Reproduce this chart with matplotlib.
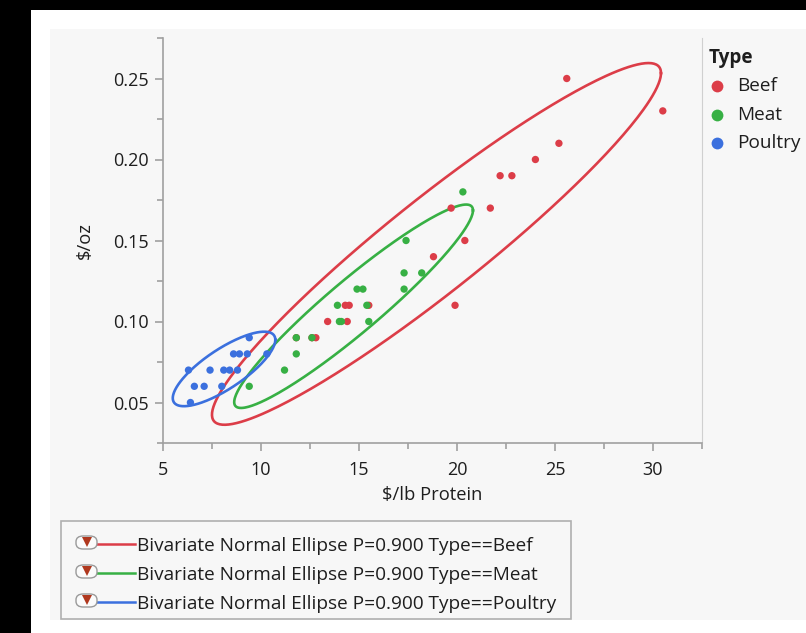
import numpy as np
import matplotlib.pyplot as plt
from matplotlib.patches import Rectangle, FancyBboxPatch
from matplotlib.lines import Line2D
from matplotlib.ticker import MultipleLocator

plt.rcParams['font.family'] = ['Open Sans', 'DejaVu Sans']

types = ['Beef', 'Meat', 'Poultry']
colors = ['#dc3d48', '#37b044', '#3b70de']

# $/lb Protein, $/oz
# (the last two beef rows sit under green points and are hidden)
beef_x = [25.6, 30.5, 25.2, 24.0, 22.2, 22.8, 19.7, 21.7, 20.4, 18.8, 19.9,
          13.4, 14.4, 14.3, 14.5, 15.5, 12.8, 11.8, 12.6]
beef_y = [0.25, 0.23, 0.21, 0.20, 0.19, 0.19, 0.17, 0.17, 0.15, 0.14, 0.11,
          0.10, 0.10, 0.11, 0.11, 0.11, 0.09, 0.09, 0.09]
meat_x = [20.3, 17.4, 17.3, 18.2, 17.3, 14.9, 15.2, 13.9, 15.4, 14.0, 14.1,
          15.5, 11.8, 12.6, 11.8, 11.2, 9.4]
meat_y = [0.18, 0.15, 0.13, 0.13, 0.12, 0.12, 0.12, 0.11, 0.11, 0.10, 0.10,
          0.10, 0.09, 0.09, 0.08, 0.07, 0.06]
poultry_x = [9.4, 8.6, 8.9, 9.3, 10.3, 6.3, 7.4, 8.1, 8.4, 8.8, 6.6, 7.1,
             8.0, 6.4]
poultry_y = [0.09, 0.08, 0.08, 0.08, 0.08, 0.07, 0.07, 0.07, 0.07, 0.07,
             0.06, 0.06, 0.06, 0.05]

series_x = [beef_x, meat_x, poultry_x]
series_y = [beef_y, meat_y, poultry_y]
P = 0.9

x_ticks = [5, 10, 15, 20, 25, 30]
y_ticks = [0.05, 0.10, 0.15, 0.20, 0.25]

W, H = 806, 633
FS = 13.7
TXT = '#1e1e1e'


def fx(x):
    return x / W


def fy(y):
    return 1 - y / H


def ellipse(x, y, p, n=300):
    x = np.asarray(x)
    y = np.asarray(y)
    cov = np.cov(x, y)
    L = np.linalg.cholesky(cov)
    r = np.sqrt(-2 * np.log(1 - p))
    t = np.linspace(0, 2 * np.pi, n)
    pts = r * L @ np.vstack([np.cos(t), np.sin(t)])
    return x.mean() + pts[0], y.mean() + pts[1]


fig = plt.figure(figsize=(W / 100, H / 100), dpi=100, facecolor='white')

# screenshot frame: black strip top/left, gray panel
fig.patches.append(Rectangle((0, fy(10)), 1, 1 - fy(10), transform=fig.transFigure,
                             facecolor='black', edgecolor='none', zorder=-3))
fig.patches.append(Rectangle((0, 0), fx(31), 1, transform=fig.transFigure,
                             facecolor='black', edgecolor='none', zorder=-3))
fig.patches.append(Rectangle((fx(50), fy(620)), 1 - fx(50), fy(29) - fy(620),
                             transform=fig.transFigure, facecolor='#f7f7f7',
                             edgecolor='none', zorder=-2))

ax = fig.add_axes([fx(163), fy(443), fx(702) - fx(163), fy(38) - fy(443)])
ax.set_facecolor('#f7f7f7')

for xs, ys, c in zip(series_x, series_y, colors):
    ex, ey = ellipse(xs, ys, P)
    ax.plot(ex, ey, color=c, lw=1.9, zorder=2)
for xs, ys, c in zip(series_x, series_y, colors):
    ax.scatter(xs, ys, s=28, color=c, edgecolors='none', zorder=3)

ax.set_xlim(5, 32.5)
ax.set_ylim(0.025, 0.275)
ax.set_xticks(x_ticks)
ax.set_yticks(y_ticks)
ax.set_yticklabels(['%.2f' % v for v in y_ticks])
ax.xaxis.set_minor_locator(MultipleLocator(2.5))
ax.yaxis.set_minor_locator(MultipleLocator(0.025))

ax.spines['top'].set_visible(False)
for s in ['left', 'bottom']:
    ax.spines[s].set_color('#a0a0a0')
    ax.spines[s].set_linewidth(1.2)
ax.spines['right'].set_color('#d0d0d0')
ax.tick_params(which='major', direction='out', length=6, width=1.2,
               color='#a0a0a0', labelsize=13, labelcolor=TXT)
ax.tick_params(axis='x', which='major', pad=7)
ax.tick_params(axis='y', which='major', pad=4)
ax.tick_params(which='minor', direction='out', length=4, width=1.2,
               color='#a0a0a0')

ax.set_xlabel('$/lb Protein', fontsize=13.2, color=TXT, labelpad=5)
ax.set_ylabel('$/oz', fontsize=13.2, color=TXT, labelpad=14)

# Type legend
fig.text(fx(709), fy(58), 'Type', fontsize=FS, fontweight='bold',
         color=TXT, va='center', ha='left')
for i, (t, c) in enumerate(zip(types, colors)):
    yy = 86 + i * 28.5
    fig.add_artist(Line2D([fx(717)], [fy(yy)], marker='o', markersize=8.5,
                          color=c, markeredgewidth=0, linestyle='none'))
    fig.text(fx(737), fy(yy), t, fontsize=FS, color=TXT,
             va='center', ha='left')

# ellipse legend box
fig.patches.append(Rectangle((fx(61), fy(619)), fx(571) - fx(61), fy(521) - fy(619),
                             transform=fig.transFigure, facecolor='none',
                             edgecolor='#b0b0b0', linewidth=1.2, zorder=1))
for i, (t, c) in enumerate(zip(types, colors)):
    yy = 546 + i * 29
    fig.patches.append(FancyBboxPatch((fx(76), fy(yy + 3)), fx(97) - fx(76),
                                      fy(yy - 10) - fy(yy + 3),
                                      boxstyle='round,pad=0,rounding_size=0.009',
                                      transform=fig.transFigure,
                                      facecolor='#fbfbfb', edgecolor='#9a9a9a',
                                      linewidth=1.0, zorder=2))
    fig.add_artist(Line2D([fx(86.5)], [fy(yy - 4)], marker='v', markersize=7.5,
                          color='#b0381e', markeredgewidth=0, linestyle='none',
                          zorder=5))
    fig.add_artist(Line2D([fx(97), fx(135)], [fy(yy - 2), fy(yy - 2)],
                          color=c, lw=1.8))
    fig.text(fx(137), fy(yy), 'Bivariate Normal Ellipse P=0.900 Type==' + t,
             fontsize=FS, color=TXT, va='center', ha='left')

fig.savefig('out.png', dpi=100, facecolor=fig.get_facecolor())
